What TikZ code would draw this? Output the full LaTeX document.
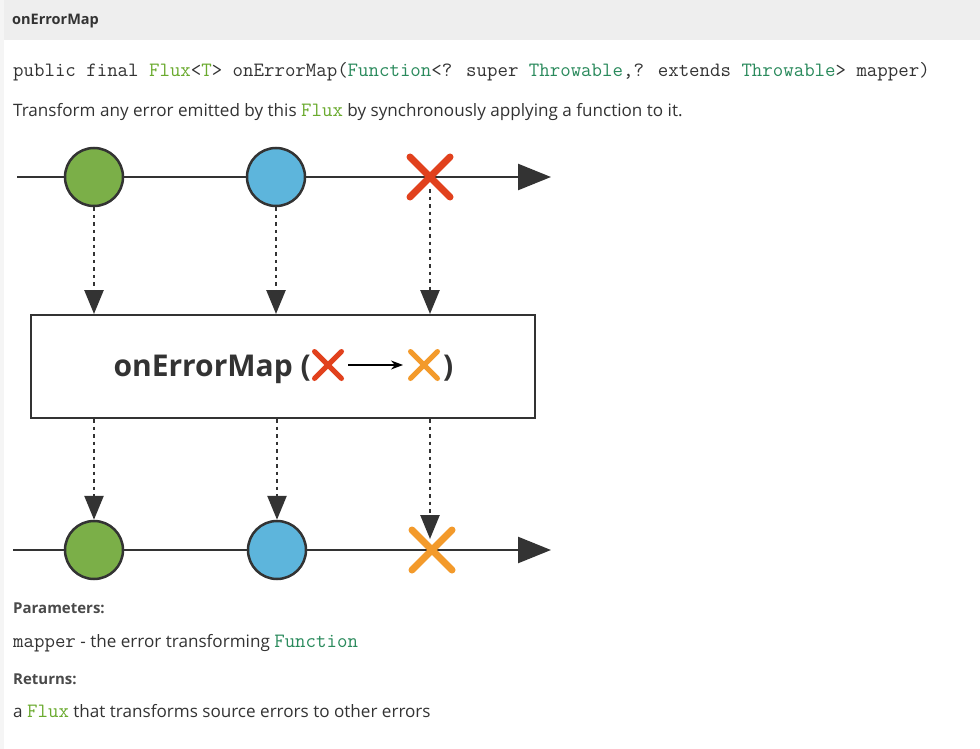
\documentclass[tikz,border=0pt]{standalone}
\usepackage{fontspec}
\setmainfont{Open Sans}
\usetikzlibrary{arrows.meta,calc}

\definecolor{marblegreen}{HTML}{7BAF48}
\definecolor{marbleblue}{HTML}{5DB5DC}
\definecolor{errred}{HTML}{E1411D}
\definecolor{errorange}{HTML}{F39A2B}
\definecolor{inkdark}{HTML}{333333}
\definecolor{texgray}{HTML}{4A4A4A}
\definecolor{fluxgreen}{HTML}{6AAA2E}
\definecolor{typegreen}{HTML}{2A8A5C}
\definecolor{headgray}{HTML}{EEEEEE}

\newcommand{\codesize}{\fontsize{20.3}{22}\selectfont}
\newcommand{\fx}[1]{{\ttfamily\codesize\color{fluxgreen}#1}}
\newcommand{\tp}[1]{{\ttfamily\codesize\color{typegreen}#1}}

\tikzset{
  marble/.style={circle,draw=inkdark,line width=2.5pt,minimum size=58pt,inner sep=0pt},
  timeline/.style={inkdark,line width=2.5pt,-{Triangle[length=33pt,width=26pt]}},
  feed/.style={inkdark,line width=2.6pt,dash pattern=on 3.5pt off 4pt,-{Triangle[length=24pt,width=19pt]}},
  crossline/.style={line width=#1,line cap=round},
  doctext/.style={anchor=base west,inner sep=0pt,font=\fontsize{17.1}{20}\selectfont,text=inkdark},
  dochead/.style={anchor=base west,inner sep=0pt,font=\fontsize{15}{18}\selectfont\bfseries,text=texgray}
}

% cross mark: centre, colour, half size, width
\newcommand{\errmark}[4]{%
  \draw[#2,crossline=#4] ($(#1)+(-#3,-#3)$) -- ($(#1)+(#3,#3)$);
  \draw[#2,crossline=#4] ($(#1)+(-#3,#3)$) -- ($(#1)+(#3,-#3)$);}

\begin{document}
\begin{tikzpicture}[x=1pt,y=-1pt]
\useasboundingbox (0,0) rectangle (980,749);
\fill[white] (0,0) rectangle (980,749);
\fill[headgray] (4,0) rectangle (980,40);
\fill[headgray!60] (0,0) rectangle (4,749);

% header and signature
\node[doctext,font=\fontsize{14.5}{17}\selectfont\bfseries,text=inkdark] (title) at (12,25) {onErrorMap};
\node[doctext,font=\ttfamily\codesize] (sig) at (13,77)
  {public final \fx{Flux}<\fx{T}> onErrorMap(\tp{Function}<? super \tp{Throwable},? extends \tp{Throwable}> mapper)};
\node[doctext] (desc) at (13,117) {Transform any error emitted by this \fx{Flux} by synchronously applying a function to it.};

% source sequence
\coordinate (srcstart) at (17,177);
\coordinate (srcend) at (551,177);
\draw[timeline] (srcstart) -- (srcend);
\node[marble,fill=marblegreen] (src1) at (94,177) {};
\node[marble,fill=marbleblue] (src2) at (276,177) {};
\coordinate (srcerr) at (430,177);
\errmark{srcerr}{errred}{20}{7pt}

% operator box
\node[draw=inkdark,line width=2pt,minimum width=504pt,minimum height=103pt,inner sep=0pt] (op) at (283,366.5) {};
\node[anchor=base east,inner sep=0pt,font=\fontsize{30}{34}\selectfont\bfseries,text=inkdark] (oplabel) at (311,376) {onErrorMap (};
\coordinate (inerr) at (328,365);
\coordinate (outerr) at (424,365);
\errmark{inerr}{errred}{13.5}{5pt}
\errmark{outerr}{errorange}{13.5}{5pt}
\draw[black,line width=1.3pt,-{Stealth[length=12pt,width=9pt]}] ($(inerr)+(20,0)$) -- ($(outerr)+(-21,0)$);
\node[anchor=base west,inner sep=0pt,font=\fontsize{30}{34}\selectfont\bfseries,text=inkdark] (close) at (443,376) {)};

% result sequence
\coordinate (resstart) at (13,550);
\coordinate (resend) at (551,550);
\draw[timeline] (resstart) -- (resend);
\node[marble,fill=marblegreen] (res1) at (94,550) {};
\node[marble,fill=marbleblue] (res2) at (277,550) {};
\coordinate (reserr) at (432,550);
\errmark{reserr}{errorange}{20}{7pt}

% dotted feeds
\draw[feed] (src1.south) -- (src1.south |- op.north);
\draw[feed] (src2.south) -- (src2.south |- op.north);
\draw[feed] ($(srcerr)+(0,12)$) -- (srcerr |- op.north);
\draw[feed] (op.south -| res1.north) -- (res1.north);
\draw[feed] (op.south -| res2.north) -- (res2.north);
\draw[feed] (op.south -| srcerr) -- ($(srcerr |- reserr)+(0,-11)$);

% parameters
\node[dochead] (params) at (13,613) {Parameters:};
\node[doctext] (mapper) at (13,647) {{\ttfamily\codesize mapper} - the error transforming \tp{Function}};
\node[dochead] (returns) at (13,684) {Returns:};
\node[doctext] (retdesc) at (13,717) {a \fx{Flux} that transforms source errors to other errors};
\end{tikzpicture}
\end{document}
